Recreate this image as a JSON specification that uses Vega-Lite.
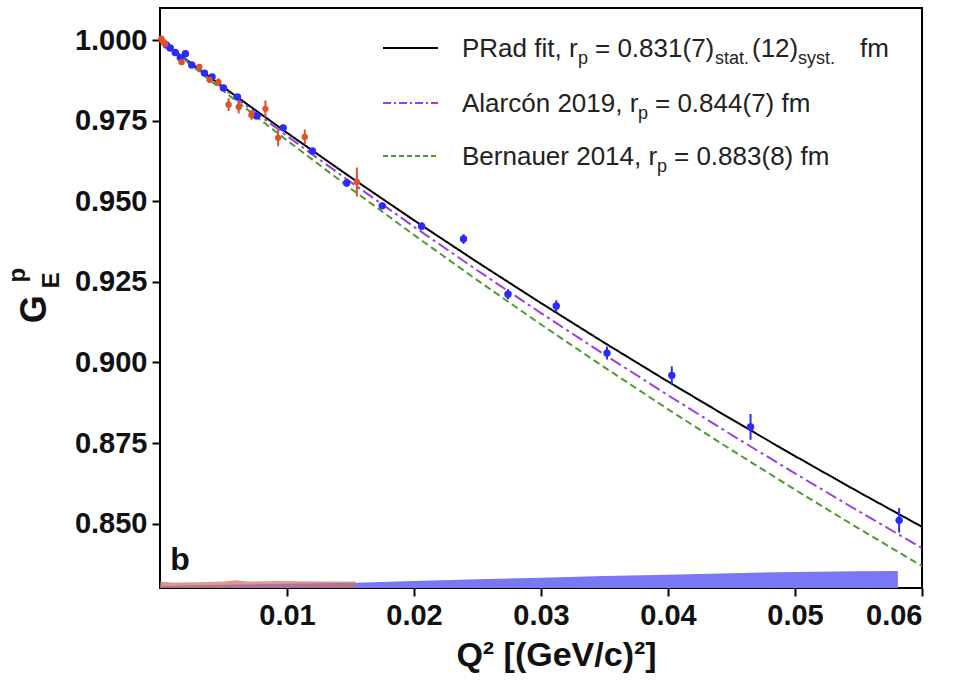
{
  "$schema": "https://vega.github.io/schema/vega-lite/v6.json",
  "autosize": {"type": "none"},
  "width": 762,
  "height": 580,
  "padding": {"left": 160, "top": 8, "right": 31, "bottom": 103},
  "background": "white",
  "config": {
    "view": {"stroke": "black", "strokeWidth": 2},
    "font": "Liberation Sans"
  },
  "datasets": {
    "fits": [
      {"model": "PRad", "q2": 0, "g": 1.0},
      {"model": "PRad", "q2": 0.005, "g": 0.98542},
      {"model": "PRad", "q2": 0.01, "g": 0.97127},
      {"model": "PRad", "q2": 0.015, "g": 0.95751},
      {"model": "PRad", "q2": 0.02, "g": 0.94412},
      {"model": "PRad", "q2": 0.025, "g": 0.93109},
      {"model": "PRad", "q2": 0.03, "g": 0.91842},
      {"model": "PRad", "q2": 0.035, "g": 0.90608},
      {"model": "PRad", "q2": 0.04, "g": 0.89406},
      {"model": "PRad", "q2": 0.045, "g": 0.88236},
      {"model": "PRad", "q2": 0.05, "g": 0.87095},
      {"model": "PRad", "q2": 0.055, "g": 0.85982},
      {"model": "PRad", "q2": 0.06, "g": 0.84898},
      {"model": "Alarcon", "q2": 0, "g": 1.0},
      {"model": "Alarcon", "q2": 0.005, "g": 0.98495},
      {"model": "Alarcon", "q2": 0.01, "g": 0.9703},
      {"model": "Alarcon", "q2": 0.015, "g": 0.95602},
      {"model": "Alarcon", "q2": 0.02, "g": 0.94211},
      {"model": "Alarcon", "q2": 0.025, "g": 0.92855},
      {"model": "Alarcon", "q2": 0.03, "g": 0.91532},
      {"model": "Alarcon", "q2": 0.035, "g": 0.90242},
      {"model": "Alarcon", "q2": 0.04, "g": 0.88983},
      {"model": "Alarcon", "q2": 0.045, "g": 0.87755},
      {"model": "Alarcon", "q2": 0.05, "g": 0.86556},
      {"model": "Alarcon", "q2": 0.055, "g": 0.85385},
      {"model": "Alarcon", "q2": 0.06, "g": 0.8424},
      {"model": "Bernauer", "q2": 0, "g": 1.0},
      {"model": "Bernauer", "q2": 0.005, "g": 0.98423},
      {"model": "Bernauer", "q2": 0.01, "g": 0.96891},
      {"model": "Bernauer", "q2": 0.015, "g": 0.95403},
      {"model": "Bernauer", "q2": 0.02, "g": 0.93956},
      {"model": "Bernauer", "q2": 0.025, "g": 0.92548},
      {"model": "Bernauer", "q2": 0.03, "g": 0.91178},
      {"model": "Bernauer", "q2": 0.035, "g": 0.89846},
      {"model": "Bernauer", "q2": 0.04, "g": 0.88548},
      {"model": "Bernauer", "q2": 0.045, "g": 0.87284},
      {"model": "Bernauer", "q2": 0.05, "g": 0.86051},
      {"model": "Bernauer", "q2": 0.055, "g": 0.84851},
      {"model": "Bernauer", "q2": 0.06, "g": 0.8368}
    ],
    "blue": [
      {"q2": 0.0005, "g": 0.9985, "lo": 0.9979, "hi": 0.9991},
      {"q2": 0.0008, "g": 0.9976, "lo": 0.997, "hi": 0.9982},
      {"q2": 0.0012, "g": 0.9962, "lo": 0.9956, "hi": 0.9968},
      {"q2": 0.0016, "g": 0.9946, "lo": 0.994, "hi": 0.9952},
      {"q2": 0.002, "g": 0.9958, "lo": 0.9952, "hi": 0.9964},
      {"q2": 0.0025, "g": 0.9923, "lo": 0.9917, "hi": 0.9929},
      {"q2": 0.0035, "g": 0.9898, "lo": 0.9892, "hi": 0.9904},
      {"q2": 0.0041, "g": 0.9886, "lo": 0.988, "hi": 0.9892},
      {"q2": 0.005, "g": 0.9852, "lo": 0.9845, "hi": 0.9859},
      {"q2": 0.0061, "g": 0.9824, "lo": 0.9817, "hi": 0.9831},
      {"q2": 0.0076, "g": 0.9765, "lo": 0.9757, "hi": 0.9773},
      {"q2": 0.0097, "g": 0.9728, "lo": 0.972, "hi": 0.9736},
      {"q2": 0.012, "g": 0.9656, "lo": 0.9647, "hi": 0.9665},
      {"q2": 0.0147, "g": 0.9557, "lo": 0.9547, "hi": 0.9567},
      {"q2": 0.0175, "g": 0.9486, "lo": 0.9476, "hi": 0.9496},
      {"q2": 0.0206, "g": 0.9423, "lo": 0.9411, "hi": 0.9435},
      {"q2": 0.0239, "g": 0.9383, "lo": 0.9368, "hi": 0.9398},
      {"q2": 0.0274, "g": 0.9212, "lo": 0.9196, "hi": 0.9228},
      {"q2": 0.0312, "g": 0.9175, "lo": 0.9157, "hi": 0.9193},
      {"q2": 0.0352, "g": 0.9029, "lo": 0.9009, "hi": 0.9049},
      {"q2": 0.0403, "g": 0.896, "lo": 0.8932, "hi": 0.8988},
      {"q2": 0.0465, "g": 0.88, "lo": 0.876, "hi": 0.884},
      {"q2": 0.0582, "g": 0.851, "lo": 0.8472, "hi": 0.8548}
    ],
    "red": [
      {"q2": 0.0001, "g": 1.0005, "lo": 0.9997, "hi": 1.0013},
      {"q2": 0.0002, "g": 0.9998, "lo": 0.9988, "hi": 1.0008},
      {"q2": 0.0003, "g": 0.9993, "lo": 0.9985, "hi": 1.0001},
      {"q2": 0.0004, "g": 0.9988, "lo": 0.998, "hi": 0.9996},
      {"q2": 0.0017, "g": 0.9932, "lo": 0.9924, "hi": 0.994},
      {"q2": 0.0031, "g": 0.9917, "lo": 0.9909, "hi": 0.9925},
      {"q2": 0.0039, "g": 0.9877, "lo": 0.9867, "hi": 0.9887},
      {"q2": 0.0046, "g": 0.987, "lo": 0.9858, "hi": 0.9882},
      {"q2": 0.0054, "g": 0.98, "lo": 0.978, "hi": 0.982},
      {"q2": 0.0062, "g": 0.9793, "lo": 0.9773, "hi": 0.9813},
      {"q2": 0.0072, "g": 0.9768, "lo": 0.9753, "hi": 0.9783},
      {"q2": 0.0083, "g": 0.9787, "lo": 0.9761, "hi": 0.9813},
      {"q2": 0.0093, "g": 0.9697, "lo": 0.9671, "hi": 0.9723},
      {"q2": 0.0114, "g": 0.97, "lo": 0.9677, "hi": 0.9723},
      {"q2": 0.0155, "g": 0.956, "lo": 0.9515, "hi": 0.9605}
    ],
    "sysblue": [
      {"q2": 0, "lo": 0.83, "hi": 0.8306},
      {"q2": 0.005, "lo": 0.83, "hi": 0.831},
      {"q2": 0.0154, "lo": 0.83, "hi": 0.8316},
      {"q2": 0.02, "lo": 0.83, "hi": 0.8322},
      {"q2": 0.025, "lo": 0.83, "hi": 0.8327},
      {"q2": 0.03, "lo": 0.83, "hi": 0.8332},
      {"q2": 0.035, "lo": 0.83, "hi": 0.8337},
      {"q2": 0.04, "lo": 0.83, "hi": 0.8341},
      {"q2": 0.045, "lo": 0.83, "hi": 0.8346},
      {"q2": 0.05, "lo": 0.83, "hi": 0.835},
      {"q2": 0.055, "lo": 0.83, "hi": 0.8352},
      {"q2": 0.0581, "lo": 0.83, "hi": 0.8353}
    ],
    "sysred": [
      {"q2": 0, "lo": 0.83, "hi": 0.832},
      {"q2": 0.001, "lo": 0.83, "hi": 0.8317},
      {"q2": 0.003, "lo": 0.83, "hi": 0.8318},
      {"q2": 0.005, "lo": 0.83, "hi": 0.832},
      {"q2": 0.006, "lo": 0.83, "hi": 0.8324},
      {"q2": 0.007, "lo": 0.83, "hi": 0.832},
      {"q2": 0.009, "lo": 0.83, "hi": 0.8322},
      {"q2": 0.011, "lo": 0.83, "hi": 0.8321},
      {"q2": 0.013, "lo": 0.83, "hi": 0.832},
      {"q2": 0.0154, "lo": 0.83, "hi": 0.832}
    ],
    "one": [{"k": 1}]
  },
  "encoding": {
    "x": {
      "type": "quantitative",
      "scale": {"domain": [0, 0.06], "nice": false, "zero": false},
      "axis": {
        "values": [0.01, 0.02, 0.03, 0.04, 0.05, 0.06],
        "format": ".2f",
        "grid": false,
        "domain": false,
        "tickColor": "black",
        "tickSize": 8,
        "tickWidth": 2,
        "labelFont": "Liberation Sans",
        "labelFontWeight": "bold",
        "labelFontSize": 29,
        "labelColor": "#111",
        "labelPadding": 5,
        "title": "Q² [(GeV/c)²]",
        "titleFont": "Liberation Sans",
        "titleFontWeight": "bold",
        "titleFontSize": 34,
        "titleColor": "#111",
        "titlePadding": 8,
        "titleX": 396
      }
    },
    "y": {
      "type": "quantitative",
      "scale": {"domain": [0.83, 1.01], "nice": false, "zero": false},
      "axis": {
        "values": [0.85, 0.875, 0.9, 0.925, 0.95, 0.975, 1.0],
        "format": ".3f",
        "grid": false,
        "domain": false,
        "tickColor": "black",
        "tickSize": 8,
        "tickWidth": 2,
        "labelFont": "Liberation Sans",
        "labelFontWeight": "bold",
        "labelFontSize": 29,
        "labelColor": "#111",
        "labelPadding": 5,
        "title": null
      }
    }
  },
  "layer": [
    {
      "data": {"name": "sysblue"},
      "mark": {"type": "area", "color": "#7878f4", "opacity": 1},
      "encoding": {"x": {"field": "q2"}, "y": {"field": "lo"}, "y2": {"field": "hi"}}
    },
    {
      "data": {"name": "sysred"},
      "mark": {"type": "area", "color": "#c8706a", "opacity": 0.7},
      "encoding": {"x": {"field": "q2"}, "y": {"field": "lo"}, "y2": {"field": "hi"}}
    },
    {
      "data": {"name": "fits"},
      "mark": {"type": "line", "strokeWidth": 2, "clip": true},
      "encoding": {
        "x": {"field": "q2"},
        "y": {"field": "g"},
        "color": {"field": "model", "type": "nominal", "scale": {"domain": ["PRad", "Alarcon", "Bernauer"], "range": ["#000000", "#9a3fe6", "#4f9a2e"]}, "legend": null},
        "strokeDash": {"field": "model", "type": "nominal", "scale": {"domain": ["PRad", "Alarcon", "Bernauer"], "range": [[1, 0], [12, 4, 3, 4], [7, 4]]}, "legend": null}
      }
    },
    {
      "data": {"name": "blue"},
      "mark": {"type": "rule", "color": "#2a2aff", "strokeWidth": 2},
      "encoding": {"x": {"field": "q2"}, "y": {"field": "lo"}, "y2": {"field": "hi"}}
    },
    {
      "data": {"name": "blue"},
      "mark": {"type": "circle", "color": "#2a2aff", "opacity": 1, "size": 55},
      "encoding": {"x": {"field": "q2"}, "y": {"field": "g"}}
    },
    {
      "data": {"name": "red"},
      "mark": {"type": "rule", "color": "#e0502a", "strokeWidth": 2},
      "encoding": {"x": {"field": "q2"}, "y": {"field": "lo"}, "y2": {"field": "hi"}}
    },
    {
      "data": {"name": "red"},
      "mark": {"type": "circle", "color": "#e0502a", "opacity": 1, "size": 40},
      "encoding": {"x": {"field": "q2"}, "y": {"field": "g"}}
    },
    {
      "data": {"name": "one"},
      "mark": {"type": "rule", "color": "#000000", "strokeWidth": 2},
      "encoding": {"x": {"datum": 0.01756}, "x2": {"datum": 0.02189}, "y": {"datum": 0.99759}}
    },
    {
      "data": {"name": "one"},
      "mark": {"type": "rule", "color": "#9a3fe6", "strokeWidth": 2, "strokeDash": [8, 3, 2, 3]},
      "encoding": {"x": {"datum": 0.01756}, "x2": {"datum": 0.02189}, "y": {"datum": 0.98051}}
    },
    {
      "data": {"name": "one"},
      "mark": {"type": "rule", "color": "#4f9a2e", "strokeWidth": 2, "strokeDash": [5, 3]},
      "encoding": {"x": {"datum": 0.01756}, "x2": {"datum": 0.02189}, "y": {"datum": 0.96407}}
    },
    {
      "data": {"name": "one"},
      "layer": [
        {"mark": {"type": "text", "text": "PRad fit, r", "align": "left", "baseline": "alphabetic", "fontSize": 26, "color": "#222", "dx": 0, "dy": 9}},
        {"mark": {"type": "text", "text": "p", "align": "left", "baseline": "alphabetic", "fontSize": 18, "color": "#222", "dx": 116, "dy": 16}},
        {"mark": {"type": "text", "text": "= 0.831(7)", "align": "left", "baseline": "alphabetic", "fontSize": 26, "color": "#222", "dx": 133, "dy": 9}},
        {"mark": {"type": "text", "text": "stat.", "align": "left", "baseline": "alphabetic", "fontSize": 18, "color": "#222", "dx": 253, "dy": 16}},
        {"mark": {"type": "text", "text": "(12)", "align": "left", "baseline": "alphabetic", "fontSize": 26, "color": "#222", "dx": 290, "dy": 9}},
        {"mark": {"type": "text", "text": "syst.", "align": "left", "baseline": "alphabetic", "fontSize": 18, "color": "#222", "dx": 336, "dy": 16}},
        {"mark": {"type": "text", "text": "fm", "align": "left", "baseline": "alphabetic", "fontSize": 26, "color": "#222", "dx": 398, "dy": 9}}
      ],
      "encoding": {"x": {"datum": 0.02378}, "y": {"datum": 0.99759}}
    },
    {
      "data": {"name": "one"},
      "layer": [
        {"mark": {"type": "text", "text": "Alarcón 2019, r", "align": "left", "baseline": "alphabetic", "fontSize": 26, "color": "#222", "dx": 0, "dy": 9}},
        {"mark": {"type": "text", "text": "p", "align": "left", "baseline": "alphabetic", "fontSize": 18, "color": "#222", "dx": 176, "dy": 16}},
        {"mark": {"type": "text", "text": "= 0.844(7) fm", "align": "left", "baseline": "alphabetic", "fontSize": 26, "color": "#222", "dx": 193, "dy": 9}}
      ],
      "encoding": {"x": {"datum": 0.02378}, "y": {"datum": 0.98051}}
    },
    {
      "data": {"name": "one"},
      "layer": [
        {"mark": {"type": "text", "text": "Bernauer 2014, r", "align": "left", "baseline": "alphabetic", "fontSize": 26, "color": "#222", "dx": 0, "dy": 9}},
        {"mark": {"type": "text", "text": "p", "align": "left", "baseline": "alphabetic", "fontSize": 18, "color": "#222", "dx": 195, "dy": 16}},
        {"mark": {"type": "text", "text": "= 0.883(8) fm", "align": "left", "baseline": "alphabetic", "fontSize": 26, "color": "#222", "dx": 212, "dy": 9}}
      ],
      "encoding": {"x": {"datum": 0.02378}, "y": {"datum": 0.96407}}
    },
    {
      "data": {"name": "one"},
      "mark": {"type": "text", "text": "b", "align": "center", "baseline": "middle", "fontSize": 32, "fontWeight": "bold", "color": "#111"},
      "encoding": {"x": {"datum": 0.00157}, "y": {"datum": 0.8387}}
    },
    {
      "data": {"name": "one"},
      "mark": {"type": "text", "text": "G", "align": "center", "baseline": "middle", "angle": -90, "fontSize": 36, "fontWeight": "bold", "color": "#111"},
      "encoding": {"x": {"datum": -0.00984}, "y": {"datum": 0.9165}}
    },
    {
      "data": {"name": "one"},
      "mark": {"type": "text", "text": "p", "align": "center", "baseline": "middle", "angle": -90, "fontSize": 24, "fontWeight": "bold", "color": "#111"},
      "encoding": {"x": {"datum": -0.01118}, "y": {"datum": 0.9271}}
    },
    {
      "data": {"name": "one"},
      "mark": {"type": "text", "text": "E", "align": "center", "baseline": "middle", "angle": -90, "fontSize": 24, "fontWeight": "bold", "color": "#111"},
      "encoding": {"x": {"datum": -0.0085}, "y": {"datum": 0.9255}}
    }
  ]
}
